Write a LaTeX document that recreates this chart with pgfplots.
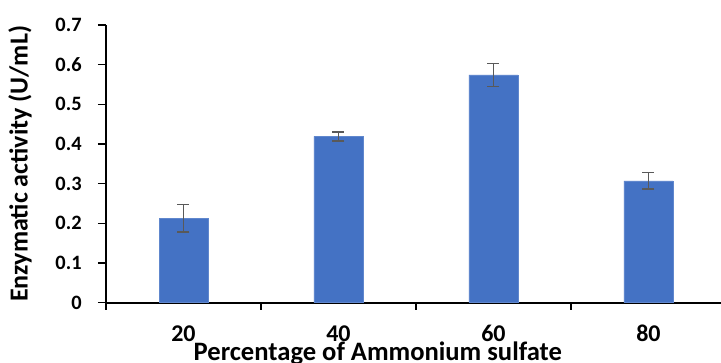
\documentclass[border=0pt]{standalone}
\usepackage{fontspec}
\setmainfont{Carlito}
\usepackage{pgfplots}
\pgfplotsset{compat=1.18}
\definecolor{barblue}{HTML}{4472C4}
\definecolor{errgray}{HTML}{595959}
\begin{document}
\begin{tikzpicture}
\path[use as bounding box, clip] (-53pt,-30.15pt) rectangle (307.5pt,151.35pt);
\begin{axis}[
  scale only axis,
  width=307.5pt, height=138.85pt,
  xmin=-0.5, xmax=3.468,
  ymin=0, ymax=0.7,
  axis x line*=bottom, axis y line*=left,
  axis line style={line width=1pt, -},
  xtick={0,1,2,3},
  xticklabels={20,40,60,80},
  major x tick style={draw=none},
  minor xtick={-0.5,0.5,1.5,2.5,3.5},
  minor x tick style={line width=1pt, black},
  minor tick length=3.5pt,
  ytick={0,0.1,...,0.7},
  major y tick style={line width=0.6pt, black},
  major tick length=4pt,
  tick align=outside,
  /pgf/number format/assume math mode=true,
  /pgf/number format/fixed, /pgf/number format/precision=1,
  yticklabel style={font=\bfseries\fontsize{10.2}{11}\selectfont, anchor=east, inner sep=0pt, xshift=-8pt},
  xticklabel style={font=\bfseries\fontsize{12}{13}\selectfont, anchor=base, inner sep=0pt, yshift=-15.5pt},
  every axis x label/.style={at={(axis description cs:0.442,0)}, anchor=base, yshift=-28.8pt, font=\bfseries\fontsize{13.3}{14}\selectfont},
  every axis y label/.style={at={(axis description cs:0,0.5)}, xshift=-43pt, rotate=90, anchor=center, font=\bfseries\fontsize{13}{14}\selectfont},
  xlabel={Percentage of Ammonium sulfate},
  ylabel={Enzymatic activity (U/mL)},
  clip=false,
]
\addplot[ybar, bar width=0.316, fill=barblue, draw=barblue!85!white,
  error bars/.cd, y dir=both, y explicit,
  error bar style={line width=0.75pt, errgray},
  error mark options={rotate=90, mark size=3pt, line width=0.75pt, errgray}]
  table[x=x, y=y, y error=e] {
x y e
0 0.213 0.035
1 0.419 0.011
2 0.574 0.029
3 0.307 0.021
};
\end{axis}
\end{tikzpicture}
\end{document}
